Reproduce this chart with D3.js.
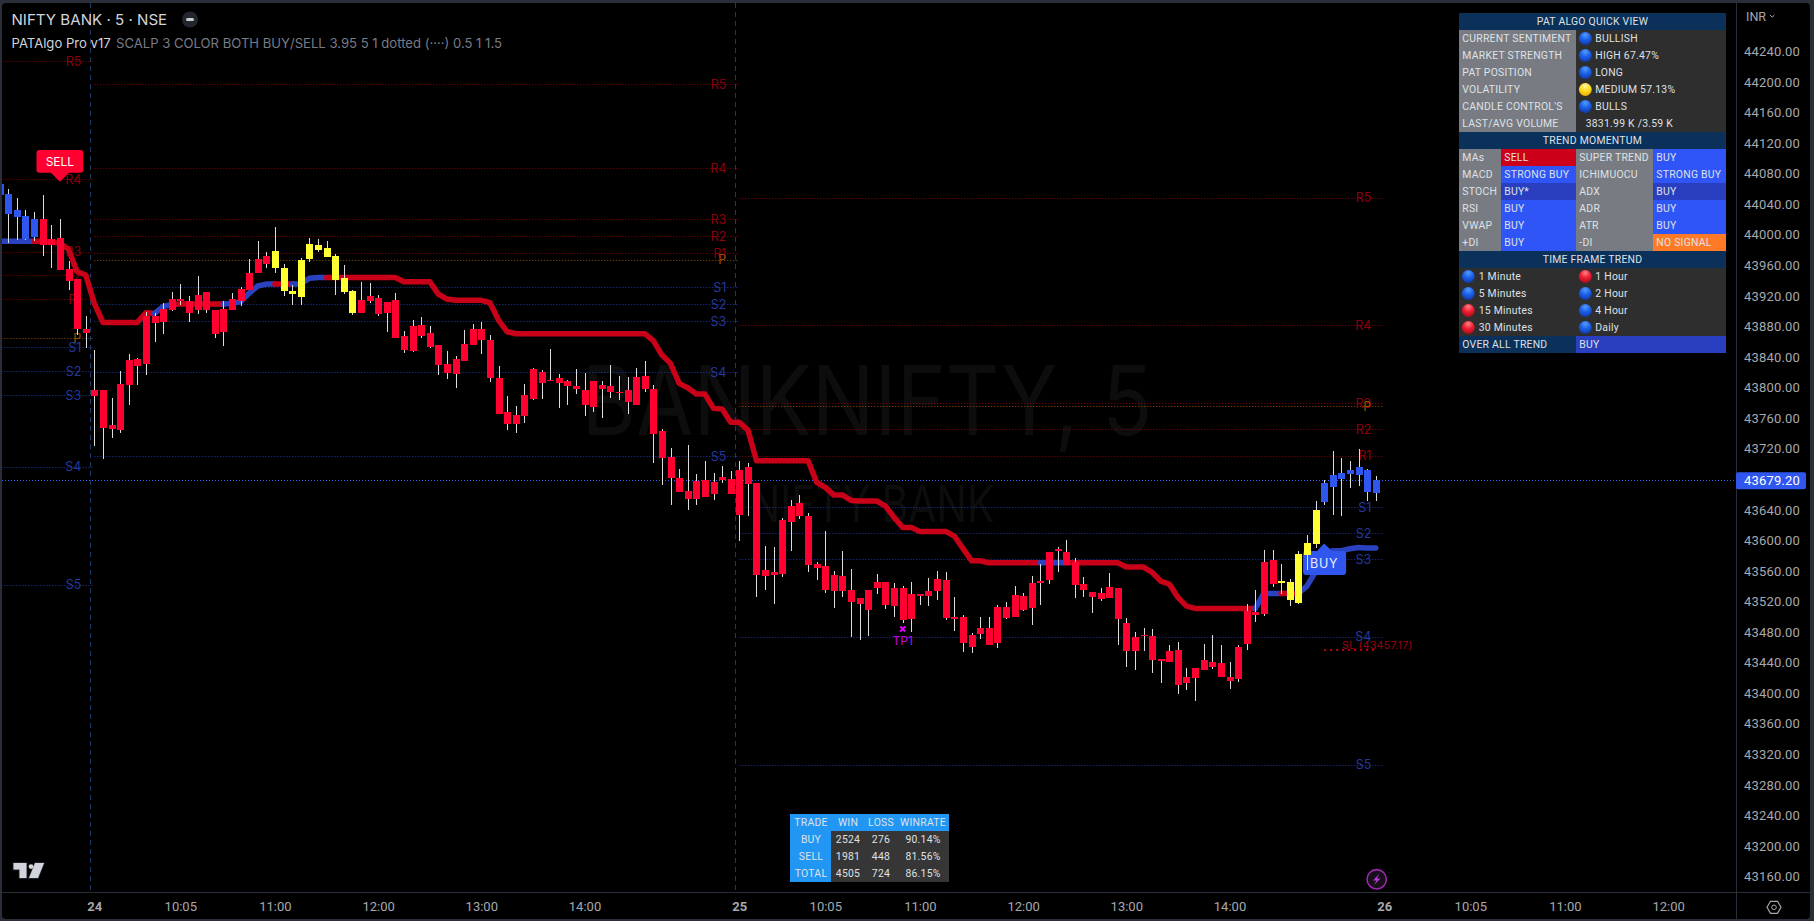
<!DOCTYPE html>
<html><head><meta charset="utf-8">
<script src="https://cdnjs.cloudflare.com/ajax/libs/d3/7.8.5/d3.min.js"></script>
<style>html,body{margin:0;background:#000;overflow:hidden}svg{display:block;font-family:Inter,Roboto,sans-serif}</style>
</head><body><svg id="c" width="1814" height="921"></svg>
<script>
// ---- Candles: bar index runs from -11 (prior session tail) to 149; index 0 = 24th 09:15
const firstBar = -11;
const opens = [44052,44027.2,44023.7,43994,43997,44020.6,43994.4,43995.7,43955.2,43942.1,43876.6,
43796.8,43796.8,43751,43804.6,43836,43837.4,43893.6,43893.6,43902.8,43915.9,
43915.9,43913.3,43921.1,43925,43901.5,43902.8,43915.9,43929,43949.9,43968.3,
43972.2,43956.5,43926.4,43922.4,43918.5,43968.3,43980,43970.9,43940.8,43925,
43897.6,43914.6,43919.8,43917.2,43912,43914.6,43867.5,43880.6,43881.9,43871.4,
43855.7,43830.8,43837.4,43857,43876.6,43876.6,43862.2,43812.5,43768,43764.1,
43790.2,43824.3,43820.3,43809.9,43812.5,43808.6,43802,43796.8,43808.6,43803.3,
43802,43794.2,43796.8,43813.8,43815.1,43798.1,43743.1,43709.1,43681.6,43664.6,
43677.7,43679,43676.4,43682.9,43680.3,43692,43696,43675,43561.2,43558.5,
43626.6,43644.9,43648.8,43631.8,43569,43566.4,43554.6,43553.3,43535,43524.5,
43535,43545.4,43545.4,43537.6,43537.6,43529.7,43529.7,43533.7,43549.4,43548.1,
43499.6,43499.6,43476.1,43485.2,43485.2,43512.7,43512.7,43528.4,43527.1,43544.1,
43546.8,43584.7,43588.7,43584.7,43571.6,43542.8,43532.4,43531,43538.9,43537.6,
43491.8,43473.5,43476.1,43474.8,43444.7,43455.2,43456.5,43421.1,43432.9,43443.4,
43440.8,43439.5,43421.1,43460.4,43507.5,43506.2,43571.6,43574.3,43544.2,43521.9,
43518,43580.8,43595.2,43650.2,43669.8,43680.3,43686.8,43685.5,43663.2,43661.9];
const highs = [44070,44059.9,44048.1,44032.4,44029.3,44052,44012.8,44020.6,43965.6,43942.1,43893.6,
43849.1,43796.8,43786.3,43821.6,43843.9,43838.7,43898.9,43897.1,43910.6,43925,
43935.5,43919.8,43946,43925,43901.5,43913.3,43923.7,43931.6,43968.3,43991.8,
43977.4,44010.1,43961.7,43934.2,43969.6,43995.7,43994.4,43991.8,43974.8,43960.4,
43927.7,43938.1,43936.8,43921.1,43912,43923.7,43874,43888.4,43892.3,43880.6,
43855.7,43847.8,43841.3,43875.3,43883.2,43885.8,43868.8,43828.2,43788.9,43775.8,
43804.6,43825.6,43823,43850.4,43817.7,43809.9,43824.3,43819,43808.6,43808.6,
43829.5,43815.1,43813.8,43825.6,43834.7,43803.3,43745.7,43720.9,43693.4,43724.8,
43686.8,43703.8,43688.1,43697.3,43690.8,43703.8,43701.2,43675,43592.6,43591.3,
43629.2,43652.8,43659.3,43635.8,43571.6,43612.2,43559.8,43586,43562.5,43524.5,
43535,43555.9,43545.4,43544.1,43540.2,43545.4,43529.7,43550.7,43559.8,43558.5,
43525.8,43502.2,43478.7,43499.6,43499.6,43515.3,43519.3,43540.2,43531,43553.3,
43569,43584.7,43591.3,43600.4,43576.9,43552,43532.4,43537.6,43557.2,43537.6,
43498.3,43480,43485.3,43483.9,43444.7,43463,43466.9,43432.9,43432.9,43464.3,
43476.1,43463,43440.8,43463,43516.7,43535,43587.4,43587.4,43569,43549.4,
43586,43607,43651.5,43679,43716.9,43707.8,43703.8,43719.5,43693.4,43684.2];
const lows = [44050,43988.8,43993.1,43993,43991.8,43972.2,43956.5,43953.9,43927.7,43868.8,43851.8,
43723.5,43706.5,43734,43740.5,43777.2,43803.3,43816.4,43859.6,43870.1,43900.2,
43908,43885.8,43896.3,43897.6,43864.8,43854.4,43901.5,43906.7,43927.7,43949.9,
43956.5,43949.9,43919.8,43908,43908,43964.3,43977.4,43970.9,43921.1,43922.4,
43895,43897.6,43910.7,43893.6,43872.7,43864.9,43845.2,43846.5,43864.9,43851.8,
43816.4,43811.2,43799.4,43834.7,43855.7,43843.9,43807.2,43765.4,43744.4,43740.5,
43753.6,43783.7,43785,43808.6,43773.2,43777.1,43791.5,43762.8,43768,43760.1,
43786.3,43783.7,43765.4,43777.1,43794.2,43701.2,43672.4,43646.3,43663.3,43639.7,
43646.3,43656.7,43652.8,43675,43660.6,43599.1,43631.8,43525.8,43535,43516.6,
43552,43586,43627.9,43558.5,43548.1,43531,43511.4,43525.8,43473.5,43469.5,
43474.8,43529.7,43510.1,43499.6,43491.8,43480,43515.3,43514,43521.9,43495.7,
43481.3,43453.8,43452.5,43470.8,43463,43459.1,43497,43499.6,43507.5,43489.2,
43515.3,43542.8,43558.6,43567.7,43524.5,43525.8,43504.9,43520.6,43524.5,43463,
43434.2,43430.3,43455.2,43426.4,43413.3,43440.8,43398.9,43404.1,43389.7,43430.3,
43431.6,43421.1,43405.4,43414.6,43456.5,43493.1,43501,43538.9,43529.8,43514,
43516.7,43561.2,43590,43646.2,43633.1,43631.8,43668.5,43671.1,43651.5,43651.5];
const closes = [44067,44053.3,44032.4,44024.5,44020.6,43986.6,43986.6,43953.9,43939.5,43876.6,43871.4,
43789,43747,43745.7,43744.4,43803.3,43828.2,43830.8,43884.5,43885.8,43901.5,
43913.3,43897.6,43901.5,43901.5,43870.1,43872.7,43901.5,43913.3,43927.7,43949.9,
43961.7,43978.7,43956.5,43926.4,43966.9,43987.9,43986.6,43982.6,43972.2,43943.4,
43926.4,43897.6,43913.3,43896.3,43897.6,43864.9,43849.1,43847.8,43867.5,43853.1,
43829.5,43819,43817.7,43834.7,43855.7,43862.2,43812.5,43765.4,43752.3,43752.3,
43762.8,43785,43806,43808.6,43806,43802,43798.1,43777.1,43774.5,43798.1,
43794.2,43792.9,43781,43777.1,43798.1,43739.2,43707.8,43681.6,43663.3,43654.1,
43654.1,43656.7,43660.6,43679,43660.6,43633.1,43673.7,43554.6,43553.3,43554.6,
43555.9,43624,43631.8,43567.7,43563.8,43535,43533.7,43533.7,43519.3,43516.6,
43508.8,43537.6,43515.3,43514,43495.7,43497,43527.1,43527.1,43533.7,43498.3,
43497,43465.6,43460.4,43477.4,43463,43465.6,43498.3,43499.6,43508.8,43511.4,
43544.1,43548.1,43586,43567.7,43541.5,43535,43525.8,43523.2,43524.5,43497,
43455.2,43455.2,43474.8,43443.4,43442.1,43440.8,43410.7,43413.3,43419.8,43430.3,
43434.2,43421.1,43415.9,43418.5,43464.3,43502.3,43503.6,43542.8,43546.8,43545.5,
43582.1,43596.5,43639.7,43675,43685.5,43688.1,43692,43696,43692,43679.2];
// candle colour runs (state, bar count): B blue, R red, Y yellow
const stateRunNames = ['B','R','Y','R','Y','B'];
const stateRunLengths = [5,27,10,107,5,7];

// ---- Trend line, one value per bar, and its colour runs
const trendValues = [43991.4,43991.4,43991.4,43991.4,43991.4,43991.4,43990.5,43988.8,43980.9,43951.7,43947.3,
43910.2,43885.3,43885.3,43885.3,43885.3,43885.3,43898,43897.1,43905.9,43908.9,
43909.3,43909.3,43909.3,43909.3,43909.3,43909.3,43910.2,43912.4,43923.3,43932.9,
43935.5,43935.5,43935.5,43935.5,43935.5,43943,43944.2,43944.2,43944.2,43944.2,
43944,43944,43944,43944,43944,43944,43938.6,43938.6,43938.6,43938.6,
43922.4,43915.9,43914.2,43914.2,43914.2,43914.2,43911.1,43888.4,43873.1,43870.5,
43870.5,43870.5,43870.5,43870.5,43870.5,43870.5,43870.5,43870.5,43870.5,43870.5,
43870.5,43870.5,43870.5,43870.5,43870.5,43861.4,43842.6,43831.7,43805.5,43799.8,
43791.5,43791.5,43772.8,43771.9,43754.5,43754.5,43744.4,43704.3,43704.3,43704.3,
43704.3,43704.3,43704.3,43704.3,43675.9,43669.4,43659.3,43659.3,43652.3,43651.5,
43651.5,43651.5,43644.9,43630.1,43617,43617,43611.8,43611.8,43611.8,43611.8,
43605.7,43589.5,43573.4,43573.4,43570.8,43570.8,43570.8,43570.8,43570.8,43570.8,
43570.8,43570.8,43570.8,43570.8,43570.8,43570.8,43570.8,43570.8,43570.8,43570.8,
43565.1,43565.1,43565.1,43558.1,43546.8,43542.8,43525.4,43514,43511,43511,
43511,43511,43511,43511,43511,43511,43530.6,43530.6,43530.6,43530.6,
43530.6,43540.2,43559,43580.8,43586.5,43586.5,43589.1,43590.8,43590,43590];
const trendRunStarts = [-11,-7,7,9,15,21,23,27,110,113,135,138,140];
const trendRunEnds   = [-7,7,9,15,21,23,27,110,113,135,138,140,149];
const trendRunStates = ['B','R','B','R','B','R','B','R','B','R','B','R','B'];

// ---- Pivot levels per session
const levelNames = ['R5','R4','R3','R2','R1','P','S1','S2','S3','S4','S5'];
const levelsPrev = [44227.4,44072.6,43977.8,43947.3,43915.9,43864.8,43853.1,43821.7,43790.2,43696.4,43542];
const levelsDay1 = [44196.7,44087,44020.6,43998.4,43976.1,43967,43931.6,43909.4,43887.1,43820,43710.4];
const levelsDay2 = [44048.4,43881.5,43779.4,43745.3,43710.8,43775.8,43643.2,43609.2,43575.2,43473.9,43306.3];
const sessionStart = [-11.5,0,75];
const sessionEnd = [0,75,150];
const sessionBreaks = [-0.47,74.53];

// ---- Axes
const priceTicks = [44240,44200,44160,44120,44080,44040,44000,43960,43920,43880,43840,43800,43760,43720,43680,43640,43600,43560,43520,43480,43440,43400,43360,43320,43280,43240,43200,43160];
const lastPrice = 43679.20;
const timeTickBars = [0,10,21,33,45,57,75,85,96,108,120,132,150,160,171,183];
const timeTickLabels = ['24','10:05','11:00','12:00','13:00','14:00','25','10:05','11:00','12:00','13:00','14:00','26','10:05','11:00','12:00'];
const dayLabels = ['24','25','26'];

// ---- Annotations
const sellBar = -4, sellPrice = 44069.4;
const buyBar = 143, buyPrice = 43596.1;
const tpBar = 94, tpPrice = 43484;
const slPrice = 43457.17, slFromBar = 143, slToBar = 149;

// ---- Quick view table
const summaryLabels = ['CURRENT SENTIMENT','MARKET STRENGTH','PAT POSITION','VOLATILITY',"CANDLE CONTROL'S",'LAST/AVG VOLUME'];
const summaryValues = ['BULLISH','HIGH 67.47%','LONG','MEDIUM 57.13%','BULLS','3831.99 K /3.59 K'];
const summaryDots = ['blue','blue','blue','yellow','blue',null];
const momentumNamesA = ['MAs','MACD','STOCH','RSI','VWAP','+DI'];
const momentumValuesA = ['SELL','STRONG BUY','BUY*','BUY','BUY','BUY'];
const momentumNamesB = ['SUPER TREND','ICHIMUOCU','ADX','ADR','ATR','-DI'];
const momentumValuesB = ['BUY','STRONG BUY','BUY','BUY','BUY','NO SIGNAL'];
const frameNamesA = ['1 Minute','5 Minutes','15 Minutes','30 Minutes'];
const frameDotsA = ['blue','blue','red','red'];
const frameNamesB = ['1 Hour','2 Hour','4 Hour','Daily'];
const frameDotsB = ['red','blue','blue','blue'];
// ---- Trade table
const tradeHeader = ['TRADE','WIN','LOSS','WINRATE'];
const tradeRows = ['BUY','SELL','TOTAL'];
const tradeWins = [2524,1981,4505];
const tradeLosses = [276,448,724];
const tradeRates = ['90.14%','81.56%','86.15%'];

// ===== drawing =====
const svg = d3.select('#c');
const x = d3.scaleLinear().domain([0,150]).range([94.3,1384.3]);
const y = d3.scaleLinear().domain([44240,43160]).range([51.4,876.6]);
const FR='#2a2e39', SEP='#2a2e39';
const COL={R:'#ff0030',B:'#2f57f0',Y:'#ffff33'};
const TREND={R:'#c80018',B:'#2b42c0'};
const defs = svg.append('defs');
defs.append('clipPath').attr('id','pane').append('rect').attr('x',2).attr('y',3).attr('width',1734.5).attr('height',889);
function grad(id,hi,mid,lo){const g=defs.append('radialGradient').attr('id',id).attr('cx','50%').attr('cy','22%').attr('r','80%');
 g.append('stop').attr('offset','0%').attr('stop-color',hi);g.append('stop').attr('offset','50%').attr('stop-color',mid);g.append('stop').attr('offset','100%').attr('stop-color',lo);}
grad('dot-blue','#4f9cff','#1c5fe6','#0f37a8');grad('dot-red','#ff8088','#ee1c30','#a80c1c');grad('dot-yellow','#fff4a8','#ffdc20','#e8ac00');

svg.append('rect').attr('width',1814).attr('height',921).attr('fill',FR);
svg.append('rect').attr('x',2).attr('y',3).attr('width',1808).attr('height',916).attr('rx',4).attr('fill','#000');

const pane = svg.append('g').attr('clip-path','url(#pane)');
// watermark
pane.append('text').attr('x',867).attr('y',435).attr('text-anchor','middle').attr('font-size',96).attr('textLength',571).attr('lengthAdjust','spacingAndGlyphs').attr('fill','#0d0d0d').text('BANKNIFTY, 5');
pane.append('text').attr('x',872).attr('y',521.7).attr('text-anchor','middle').attr('font-size',51).attr('textLength',245).attr('lengthAdjust','spacingAndGlyphs').attr('fill','#0d0d0d').text('NIFTY BANK');
// session breaks
pane.selectAll('.brk').data(sessionBreaks).join('line').attr('x1',d=>Math.round(x(d))+.5).attr('x2',d=>Math.round(x(d))+.5).attr('y1',3).attr('y2',892)
 .attr('stroke','#1c3a63').attr('stroke-dasharray','5 4');
// levels
const levelColor=n=>n[0]==='R'?'#8c000c':n==='P'?'#96500a':'#2438a4';
const labelColor=n=>n[0]==='R'?'#8c000e':n==='P'?'#9c4c00':'#24399a';
[levelsPrev,levelsDay1,levelsDay2].forEach((vals,s)=>{
 const g=pane.append('g');
 g.selectAll('line').data(vals).join('line').attr('x1',x(sessionStart[s])).attr('x2',x(sessionEnd[s]))
  .attr('y1',d=>Math.round(y(d))+.5).attr('y2',d=>Math.round(y(d))+.5).attr('stroke',(d,i)=>levelColor(levelNames[i])).attr('stroke-dasharray','1 2');
 g.selectAll('text').data(vals).join('text').attr('x',x(sessionEnd[s])-13).attr('y',d=>y(d)).attr('dy','.36em').attr('text-anchor','end')
  .attr('font-size',12.5).attr('fill',(d,i)=>labelColor(levelNames[i])).text((d,i)=>levelNames[i]);
});
// last price line
pane.append('line').attr('x1',2).attr('x2',1736).attr('y1',Math.round(y(lastPrice))+.5).attr('y2',Math.round(y(lastPrice))+.5).attr('stroke','#3a62ff').attr('stroke-dasharray','1 2');
// trend
const trendAt=i=>trendValues[i-firstBar];
const tl=d3.line().x(d=>x(d)).y(d=>y(trendAt(d))).curve(d3.curveLinear);
trendRunStarts.forEach((s,k)=>{
 pane.append('path').attr('d',tl(d3.range(s,trendRunEnds[k]+1))).attr('fill','none').attr('stroke',TREND[trendRunStates[k]])
  .attr('stroke-width',5.5).attr('stroke-linejoin','round').attr('stroke-linecap','round');
});
// signal labels
const sx=x(sellBar), sy=y(sellPrice);
pane.append('path').attr('d',`M${sx},${sy}l-9,-9h-11.4q-3,0,-3,-3v-16.7q0,-3,3,-3h40.8q3,0,3,3v16.7q0,3,-3,3h-11.4z`).attr('fill','#ff0030');
pane.append('text').attr('x',sx).attr('y',sy-15.5).attr('text-anchor','middle').attr('font-size',12).attr('fill','#fff').text('SELL');
const bx=x(buyBar), by=y(buyPrice);
pane.append('path').attr('d',`M${bx},${by}l8,7.5h11q3,0,3,3v18q0,3,-3,3h-37q-3,0,-3,-3v-18q0,-3,3,-3h11z`).attr('fill','#2f57f0');
pane.append('text').attr('x',bx).attr('y',by+24.5).attr('text-anchor','middle').attr('font-size',12.5).attr('fill','#e8ecff').attr('letter-spacing',.8).text('BUY');
// TP
const tx=x(tpBar), ty=y(tpPrice);
pane.append('path').attr('d',`M${tx-2.5},${ty-2.5}L${tx+2.5},${ty+2.5}M${tx+2.5},${ty-2.5}L${tx-2.5},${ty+2.5}`).attr('stroke','#e000ff').attr('stroke-width',2);
pane.append('text').attr('x',tx).attr('y',ty+16).attr('text-anchor','middle').attr('font-size',12).attr('fill','#c800e8').text('TP1');
// SL
pane.append('line').attr('x1',x(slFromBar)).attr('x2',x(slToBar)).attr('y1',y(slPrice)+.5).attr('y2',y(slPrice)+.5).attr('stroke','#c00010').attr('stroke-width',2).attr('stroke-dasharray','2 4');
pane.append('text').attr('x',x(slFromBar)+18).attr('y',y(slPrice)-1).attr('font-size',10.5).attr('letter-spacing',.3).attr('fill','#a00010').text('SL ('+slPrice+')');
// candles
const states=[];stateRunNames.forEach((s,k)=>{for(let n=0;n<stateRunLengths[k];n++)states.push(s);});
const bars=d3.range(opens.length);
pane.append('g').selectAll('rect').data(bars).join('rect')
 .attr('x',i=>Math.round(x(i+firstBar))).attr('width',1).attr('y',i=>y(highs[i])).attr('height',i=>y(lows[i])-y(highs[i])).attr('fill','#dcdcdc').attr('shape-rendering','crispEdges');
pane.append('g').selectAll('rect').data(bars).join('rect')
 .attr('x',i=>Math.round(x(i+firstBar))-3).attr('width',7)
 .attr('y',i=>Math.round(y(Math.max(opens[i],closes[i]))))
 .attr('height',i=>Math.max(1,Math.round(y(Math.min(opens[i],closes[i])))-Math.round(y(Math.max(opens[i],closes[i])))))
 .attr('fill',i=>COL[states[i]]).attr('shape-rendering','crispEdges');

// legend
svg.append('text').attr('x',11.5).attr('y',24.5).attr('font-size',15.1).attr('fill','#d1d4dc').text('NIFTY BANK · 5 · NSE');
svg.append('circle').attr('cx',190).attr('cy',19.5).attr('r',8).attr('fill','#23262f');
svg.append('rect').attr('x',186).attr('y',18).attr('width',8).attr('height',3).attr('rx',1.5).attr('fill','#c8cad0');
const lg=svg.append('text').attr('x',11.5).attr('y',48).attr('font-size',13.1);
lg.append('tspan').attr('fill','#d1d4dc').text('PATAlgo Pro v17');
lg.append('tspan').attr('x',116).attr('fill','#787b86').text('SCALP 3 COLOR BOTH BUY/SELL 3.95 5 1 dotted (····) 0.5 1 1.5');

// separators
svg.append('line').attr('x1',1736.5).attr('x2',1736.5).attr('y1',3).attr('y2',919).attr('stroke',SEP);
svg.append('line').attr('x1',2).attr('x2',1810).attr('y1',892.5).attr('y2',892.5).attr('stroke',SEP);

// axes
const yAxis=d3.axisRight(y).tickValues(priceTicks).tickSize(0).tickPadding(0).tickFormat(d3.format('.2f'));
const ya=svg.append('g').attr('transform','translate(1772,0)').call(yAxis);
ya.select('.domain').remove();
ya.selectAll('text').attr('text-anchor','middle').attr('font-size',13).attr('font-family','Roboto,Inter,sans-serif').attr('letter-spacing',.15).attr('fill','#a6a8ae');
const xAxis=d3.axisBottom(x).tickValues(timeTickBars).tickSize(0).tickPadding(0).tickFormat((d,i)=>timeTickLabels[i]);
const xa=svg.append('g').attr('transform','translate(0,902)').call(xAxis);
xa.select('.domain').remove();
xa.selectAll('text').attr('font-size',13).attr('font-family','Roboto,Inter,sans-serif').attr('fill','#a6a8ae').attr('font-weight',(d,i)=>dayLabels.includes(timeTickLabels[i])?700:400).attr('dy','.71em');
// price tag
svg.append('rect').attr('x',1736).attr('y',472.3).attr('width',70).attr('height',17).attr('rx',2).attr('fill','#2f57f0');
svg.append('text').attr('x',1772).attr('y',y(lastPrice)).attr('dy','.36em').attr('text-anchor','middle').attr('font-size',13).attr('font-family','Roboto,Inter,sans-serif').attr('letter-spacing',.15).attr('fill','#fff').text(lastPrice.toFixed(2));
// INR
svg.append('text').attr('x',1746).attr('y',21).attr('font-size',12.5).attr('font-family','Roboto,Inter,sans-serif').attr('fill','#a6a8ae').text('INR');
svg.append('path').attr('d','M1770,15l2.2,2.2l2.2,-2.2').attr('fill','none').attr('stroke','#a6a8ae');
// logo
svg.append('path').attr('d','M13.5,863H26.5V878H19.5V869.5H13.5ZM35,863H44L38,878H29Z').attr('fill','#d1d4dc').attr('stroke','#2a2e39').attr('stroke-width',1.5).attr('paint-order','stroke');
svg.append('circle').attr('cx',31).attr('cy',866.6).attr('r',2.4).attr('fill','#d1d4dc');
// bolt
svg.append('circle').attr('cx',1376.7).attr('cy',879.3).attr('r',9.7).attr('fill','#17101a').attr('stroke','#9c27b0').attr('stroke-width',1.6);
svg.append('path').attr('d','M1379.5,873.5L1373,880.5H1376.5L1374,885L1380.5,878.5H1377Z').attr('fill','#b83ad8');
// gear
svg.append('path').attr('d','M1767,907.3l3.5,-6h7l3.5,6l-3.5,6h-7z').attr('fill','none').attr('stroke','#a6a8ae').attr('stroke-width',1.2);
svg.append('circle').attr('cx',1774).attr('cy',907.3).attr('r',2.3).attr('fill','none').attr('stroke','#a6a8ae');

// ---- quick view table
const T=svg.append('g').attr('class','tbl').style('font-family','Roboto,Inter,sans-serif');
const X0=1459,X1=1501,X2=1576,X3=1653,X4=1726,Y0=13,RH=17;
const NAVY='#0b3059',GREY='#787c82',DARK='#2e2e2e',BLUE='#3055f7',DBLUE='#2a3fbf',TXT='#dfe1e6';
function cell(a,b,r,f){T.append('rect').attr('x',a).attr('y',Y0+r*RH).attr('width',b-a).attr('height',RH).attr('fill',f).attr('shape-rendering','crispEdges');}
function txt(s,xp,r,anchor,fill){T.append('text').attr('x',xp).attr('y',Y0+r*RH+RH/2).attr('dy','.36em').attr('text-anchor',anchor||'start').attr('font-size',10.4).attr('letter-spacing',.25).attr('fill',fill||TXT).text(s);}
function dot(c,xp,r){T.append('circle').attr('cx',xp).attr('cy',Y0+r*RH+RH/2).attr('r',6.4).attr('fill',`url(#dot-${c})`);}
function head(s,r){cell(X0,X4,r,NAVY);txt(s,(X0+X4)/2,r,'middle');}
head('PAT ALGO QUICK VIEW',0);
summaryLabels.forEach((s,k)=>{const r=1+k;cell(X0,X2,r,GREY);cell(X2,X4,r,DARK);txt(s,1462.3,r);
 if(summaryDots[k]){dot(summaryDots[k],1585.3,r);txt(summaryValues[k],1595.3,r);}else txt(summaryValues[k],1585.7,r);});
head('TREND MOMENTUM',7);
const valFill=v=>v==='SELL'?'#cc0018':v==='NO SIGNAL'?'#ff7a26':(v==='BUY*')?DBLUE:BLUE;
momentumNamesA.forEach((s,k)=>{const r=8+k;
 cell(X0,X1,r,GREY);cell(X1,X2,r,valFill(momentumValuesA[k]));cell(X2,X3,r,GREY);
 const vb=momentumValuesB[k];cell(X3,X4,r,vb==='BUY'&&k===2?DBLUE:valFill(vb));
 txt(s,1462.3,r);txt(momentumValuesA[k],1504.3,r);txt(momentumNamesB[k],1579.3,r);txt(vb,1656.3,r);});
head('TIME FRAME TREND',14);
frameNamesA.forEach((s,k)=>{const r=15+k;cell(X0,X4,r,DARK);dot(frameDotsA[k],1468.3,r);txt(s,1478.7,r);dot(frameDotsB[k],1585.3,r);txt(frameNamesB[k],1595.3,r);});
cell(X0,X2,19,NAVY);cell(X2,X4,19,DBLUE);txt('OVER ALL TREND',1462.3,19);txt('BUY',1579.3,19);

// ---- trade table
const centers=[811,848,881,923];const TY=814;
const TT=svg.append('g').style('font-family','Roboto,Inter,sans-serif');
TT.append('rect').attr('x',790).attr('y',TY).attr('width',159).attr('height',17).attr('fill','#2196f3');
TT.append('rect').attr('x',790).attr('y',TY+17).attr('width',41).attr('height',51).attr('fill','#2196f3');
TT.append('rect').attr('x',831).attr('y',TY+17).attr('width',118).attr('height',51).attr('fill','#363636');
function tt(s,cx,r){TT.append('text').attr('x',cx).attr('y',TY+r*17+8.5).attr('dy','.36em').attr('text-anchor','middle').attr('font-size',10.4).attr('letter-spacing',.25).attr('fill',TXT).text(s);}
tradeHeader.forEach((s,i)=>tt(s,centers[i],0));
tradeRows.forEach((s,i)=>{tt(s,centers[0],i+1);tt(tradeWins[i],centers[1],i+1);tt(tradeLosses[i],centers[2],i+1);tt(tradeRates[i],centers[3],i+1);});
</script></body></html>
